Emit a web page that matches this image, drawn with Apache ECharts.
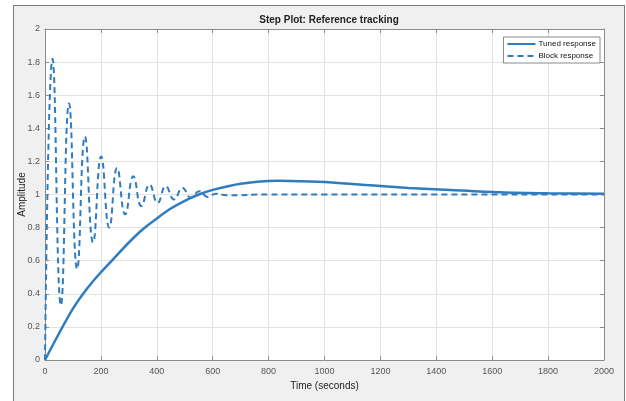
<!DOCTYPE html>
<html>
<head>
<meta charset="utf-8">
<script src="https://cdn.jsdelivr.net/npm/echarts@6/dist/echarts.min.js"></script>
<style>
  html, body { margin: 0; padding: 0; background: #ffffff; }
  #frame {
    position: absolute; left: 13px; top: 5px; width: 610px; height: 400px;
    background: #f0f0f0; border: 1px solid #7a7a7a; border-bottom: none;
  }
  #main { position: absolute; left: 0; top: 0; width: 626px; height: 401px; }
</style>
</head>
<body>
<div id="frame"></div>
<div id="main"></div>
<script>
    // 坐标轴刻度
    let xTicks = [0, 200, 400, 600, 800, 1000, 1200, 1400, 1600, 1800, 2000];
    let yTicks = [0, 0.2, 0.4, 0.6, 0.8, 1, 1.2, 1.4, 1.6, 1.8, 2];

    // Tuned response (solid)
    let tunedTime = [0, 50, 100, 150, 200, 250, 300, 350, 400, 450, 500, 550, 600, 700, 829, 950, 1050, 1151, 1300, 1449, 1628, 1800, 2000];
    let tunedValue = [0, 0.16, 0.31, 0.43, 0.53, 0.62, 0.71, 0.79, 0.855, 0.915, 0.962, 1.0, 1.028, 1.065, 1.083, 1.078, 1.07, 1.057, 1.04, 1.027, 1.013, 1.007, 1.004];

    // Block response (dashed) - peaks and troughs
    let blockTime = [0, 27, 57, 86, 115, 143, 172, 201, 230, 258, 287, 316, 345, 374, 403, 432, 462, 492, 522, 552, 582, 612, 650, 800, 1000, 1400, 2000];
    let blockValue = [0, 1.82, 0.33, 1.55, 0.55, 1.35, 0.71, 1.23, 0.80, 1.16, 0.88, 1.11, 0.93, 1.06, 0.95, 1.05, 0.97, 1.04, 0.98, 1.02, 0.985, 1.005, 0.995, 1.0, 1.0, 1.0, 1.0];

    function pairs(xs, ys) {
        return xs.map(function (x, i) { return [x, ys[i]]; });
    }

    let lineColor = '#2f7cbf';
    let axisColor = '#8c8c8c';
    let fontName = 'Liberation Sans Narrow, Liberation Sans, Arial, sans-serif';
    let labelFont = { fontFamily: fontName, fontSize: 9, color: '#555555', formatter: function (v) { return String(v); } };

    let chart = echarts.init(document.getElementById('main'), null, { renderer: 'canvas' });

    let option = {
        backgroundColor: 'transparent',
        animation: false,
        title: {
            text: 'Step Plot: Reference tracking',
            left: 324,
            top: 10,
            textAlign: 'center',
            textStyle: { fontFamily: fontName, fontSize: 10, fontWeight: 'bold', color: '#222222' }
        },
        legend: {
            right: 26,
            top: 37,
            orient: 'vertical',
            backgroundColor: '#ffffff',
            borderColor: '#8a8a8a',
            borderWidth: 1,
            padding: [3, 4, 3, 3],
            itemGap: 4,
            itemWidth: 28,
            itemHeight: 10,
            itemStyle: { opacity: 0 },
            textStyle: { fontFamily: fontName, fontSize: 8, color: '#111111', padding: [0, 0, 0, -2] },
            data: ['Tuned response', 'Block response']
        },
        grid: {
            show: true,
            left: 45,
            top: 29,
            right: 22,
            bottom: 41,
            backgroundColor: '#ffffff',
            borderWidth: 0
        },
        xAxis: [
            {
                type: 'value',
                min: 0, max: 2000, interval: 200,
                name: 'Time (seconds)',
                nameLocation: 'middle',
                nameGap: 21,
                nameMoveOverlap: false,
                nameTextStyle: { fontFamily: fontName, fontSize: 10, color: '#222222' },
                axisLine: { show: true, onZero: false, lineStyle: { color: axisColor } },
                axisTick: { show: true, inside: true, length: 4, lineStyle: { color: axisColor } },
                axisLabel: Object.assign({ margin: 7 }, labelFont),
                splitLine: { show: true, lineStyle: { color: '#e3e3e3' } }
            },
            {
                type: 'value',
                position: 'top',
                min: 0, max: 2000, interval: 200,
                axisLine: { show: true, onZero: false, lineStyle: { color: axisColor } },
                axisTick: { show: true, inside: true, length: 4, lineStyle: { color: axisColor } },
                axisLabel: { show: false },
                splitLine: { show: false }
            }
        ],
        yAxis: [
            {
                type: 'value',
                min: 0, max: 2, interval: 0.2,
                name: 'Amplitude',
                nameLocation: 'middle',
                nameGap: 18,
                nameMoveOverlap: false,
                nameTextStyle: { fontFamily: fontName, fontSize: 10, color: '#222222' },
                axisLine: { show: true, onZero: false, lineStyle: { color: axisColor } },
                axisTick: { show: true, inside: true, length: 4, lineStyle: { color: axisColor } },
                axisLabel: Object.assign({ margin: 5 }, labelFont),
                splitLine: { show: true, lineStyle: { color: '#e3e3e3' } }
            },
            {
                type: 'value',
                position: 'right',
                min: 0, max: 2, interval: 0.2,
                axisLine: { show: true, onZero: false, lineStyle: { color: axisColor } },
                axisTick: { show: true, inside: true, length: 4, lineStyle: { color: axisColor } },
                axisLabel: { show: false },
                splitLine: { show: false }
            }
        ],
        series: [
            {
                name: 'Tuned response',
                type: 'line',
                data: pairs(tunedTime, tunedValue),
                smooth: 0.3,
                symbol: 'none',
                lineStyle: { color: lineColor, width: 2.5 },
                itemStyle: { color: lineColor },
                z: 3
            },
            {
                name: 'Block response',
                type: 'line',
                data: pairs(blockTime, blockValue),
                smooth: 0.5,
                symbol: 'none',
                lineStyle: { color: lineColor, width: 2, type: [6, 4] },
                itemStyle: { color: lineColor },
                z: 2
            }
        ]
    };

    chart.setOption(option);
</script>
</body>
</html>
